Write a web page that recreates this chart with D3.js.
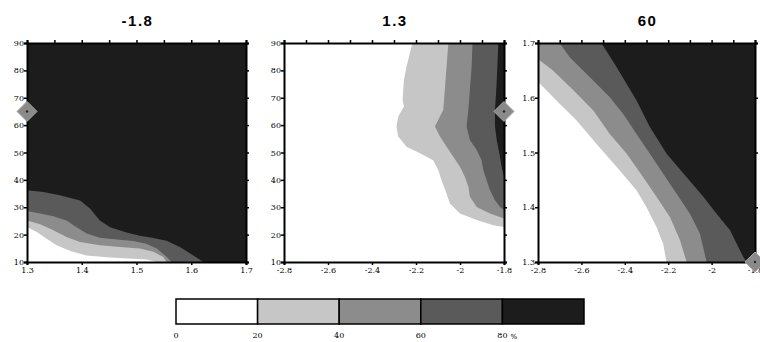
<!DOCTYPE html>
<html>
<head>
  <meta charset="utf-8">
  <title>contours</title>
  <style type="text/css">
    body { margin: 0; background-color: #fff; }
    svg { display: block; }
    .tick text { font-family: "DejaVu Serif", serif; font-size: 8px; fill: #000; }
    .title { font-family: "Liberation Sans", Arial, sans-serif; font-weight: bold; font-size: 15px; letter-spacing: 1.5px; }
    .lab { font-family: "DejaVu Serif", serif; font-size: 8px; fill: #000; }
  </style>
  <script src="https://d3js.org/d3.v7.min.js"></script>
</head>
<body>
<script>
// colour levels (percent)
var levels = [0, 20, 40, 60, 80];
var levelColors = ["#ffffff", "#c6c6c6", "#8c8c8c", "#5a5a5a", "#1c1c1c"];
var legendLabels = ["0", "20", "40", "60", "80"];

var titles = ["-1.8", "1.3", "60"];

// panel 1: x 1.3..1.7, y 10..90 -- boundaries of the 20/40/60/80 % levels
var p1b20 = [[1.3,22.8],[1.318,21],[1.336,18.5],[1.354,16.1],[1.379,14],[1.409,12.4],[1.452,11.6],[1.494,11.2],[1.519,10.9],[1.537,10]];
var p1b40 = [[1.3,25.2],[1.324,23.8],[1.348,21.6],[1.372,19.1],[1.397,17.3],[1.433,16.1],[1.47,15.5],[1.506,14.9],[1.531,13.7],[1.549,11.8],[1.555,10]];
var p1b60 = [[1.3,28.6],[1.324,27.7],[1.348,26.7],[1.372,25.2],[1.39,22.8],[1.409,20.4],[1.433,18.9],[1.464,18.2],[1.494,17.7],[1.518,16.7],[1.537,14.9],[1.555,11.9],[1.564,10]];
var p1b80 = [[1.3,36.2],[1.33,35.6],[1.36,34.4],[1.397,32.5],[1.415,29.5],[1.433,25.2],[1.452,22.7],[1.482,20.8],[1.506,19.6],[1.531,18.8],[1.555,17.8],[1.58,15.4],[1.604,12.4],[1.622,10]];

// panel 2: x -2.8..-1.8, y 10..90
var p2b20 = [[-2.213,90],[-2.22,88.8],[-2.243,81.4],[-2.255,76.5],[-2.261,69.2],[-2.255,66.8],[-2.281,63.1],[-2.289,59.5],[-2.281,55.8],[-2.243,52.1],[-2.182,49.7],[-2.122,47.2],[-2.099,43.6],[-2.084,39.9],[-2.061,35],[-2.046,31.4],[-2,27.7],[-1.924,25.3],[-1.849,23.4],[-1.8,22.8]];
var p2b40 = [[-2.053,90],[-2.061,81.4],[-2.069,72.9],[-2.076,65.6],[-2.099,61.9],[-2.114,59.5],[-2.091,55.8],[-2.061,52.1],[-2.031,48.5],[-2,44.8],[-1.978,41.1],[-1.962,37.5],[-1.955,33.8],[-1.924,30.1],[-1.864,27.7],[-1.8,25.9]];
var p2b60 = [[-1.943,90],[-1.947,81.4],[-1.955,72.9],[-1.962,65.6],[-1.97,59.5],[-1.955,54.6],[-1.924,50.9],[-1.902,47.2],[-1.894,43.6],[-1.879,39.9],[-1.864,36.3],[-1.841,32.6],[-1.818,30.1],[-1.8,28.9]];
var p2b80 = [[-1.826,90],[-1.83,81.4],[-1.836,71.7],[-1.841,65.6],[-1.841,59.5],[-1.833,54.6],[-1.821,49.7],[-1.811,44.8],[-1.8,41.1]];

// panel 3: x -2.8..-1.8, y 1.3..1.7
var p3b20 = [[-2.8,1.629],[-2.715,1.595],[-2.623,1.559],[-2.531,1.516],[-2.438,1.474],[-2.346,1.431],[-2.3,1.4],[-2.254,1.364],[-2.223,1.333],[-2.208,1.3]];
var p3b40 = [[-2.8,1.671],[-2.731,1.65],[-2.638,1.614],[-2.546,1.577],[-2.469,1.534],[-2.392,1.498],[-2.315,1.455],[-2.254,1.419],[-2.192,1.382],[-2.146,1.34],[-2.115,1.3]];
var p3b60 = [[-2.7,1.7],[-2.654,1.674],[-2.562,1.638],[-2.469,1.601],[-2.408,1.571],[-2.346,1.534],[-2.285,1.498],[-2.223,1.461],[-2.162,1.425],[-2.1,1.388],[-2.054,1.352],[-2.023,1.3]];
var p3b80 = [[-2.508,1.7],[-2.438,1.656],[-2.346,1.595],[-2.285,1.547],[-2.208,1.498],[-2.115,1.455],[-2.038,1.419],[-1.977,1.388],[-1.915,1.358],[-1.854,1.309],[-1.838,1.3]];

// reference markers
var markers = [[1.3, 65], [-1.8, 65], [-1.8, 1.3]];

var svg = d3.select("body").append("svg")
  .attr("width", 760).attr("height", 342);

var plotTop = 43, h = 219;

function dashFmt(d) {
  return d3.format(".1f")(d).replace(".0", "").replace("\u2212", "-");
}

var panels = [
  { left: 27, w: 219, xd: [1.3, 1.7], yd: [10, 90], bounds: [p1b20, p1b40, p1b60, p1b80],
    // region left/below each boundary is the lower level
    lowerSide: true, close: [[0.3, -90]],
    xTop: d3.range(1.3, 1.7001, 0.05), xBot: d3.range(1.3, 1.7001, 0.1), yT: d3.range(10, 91, 10),
    xFmt: d3.format(".1f"), yFmt: d3.format("d") },
  { left: 284, w: 220, xd: [-2.8, -1.8], yd: [10, 90], bounds: [p2b20, p2b40, p2b60, p2b80],
    lowerSide: false, close: [[-0.8, 190]],
    xTop: d3.range(-2.8, -1.7999, 0.1), xBot: d3.range(-2.8, -1.7999, 0.2), yT: d3.range(10, 91, 10),
    xFmt: dashFmt, yFmt: d3.format("d") },
  { left: 538, w: 217, xd: [-2.8, -1.8], yd: [1.3, 1.7], bounds: [p3b20, p3b40, p3b60, p3b80],
    lowerSide: false, close: [[-0.8, 0.3], [-0.8, 2.7], [-3.8, 2.7]],
    xTop: d3.range(-2.8, -1.7999, 0.1), xBot: d3.range(-2.8, -1.7999, 0.2), yT: d3.range(1.3, 1.7001, 0.1),
    xFmt: dashFmt, yFmt: d3.format(".1f") }
];

panels.forEach(function(p, i) {
  var x = d3.scaleLinear().domain(p.xd).range([0, p.w]);
  var y = d3.scaleLinear().domain(p.yd).range([h, 0]);
  var g = svg.append("g").attr("transform", "translate(" + p.left + "," + plotTop + ")");

  g.append("clipPath").attr("id", "clip" + i)
    .append("rect").attr("width", p.w).attr("height", h);

  var area = g.append("g").attr("clip-path", "url(#clip" + i + ")");
  var line = d3.line().x(function(d) { return x(d[0]); }).y(function(d) { return y(d[1]); });

  if (p.lowerSide) {
    // background is top level, fill downward levels
    area.append("rect").attr("width", p.w).attr("height", h).attr("fill", levelColors[4]);
    for (var k = 3; k >= 0; k--) {
      area.append("path").attr("d", line(p.bounds[k].concat(p.close)) + "Z").attr("fill", levelColors[k]);
    }
  } else {
    area.append("rect").attr("width", p.w).attr("height", h).attr("fill", levelColors[0]);
    for (var k = 0; k < 4; k++) {
      area.append("path").attr("d", line(p.bounds[k].concat(p.close)) + "Z").attr("fill", levelColors[k + 1]);
    }
  }

  // axes
  g.append("g").attr("transform", "translate(0," + h + ")")
    .call(d3.axisBottom(x).tickValues(p.xBot).tickFormat(p.xFmt).tickSize(3).tickPadding(2));
  g.append("g")
    .call(d3.axisTop(x).tickValues(p.xTop).tickFormat("").tickSize(3));
  g.append("g")
    .call(d3.axisLeft(y).tickValues(p.yT).tickFormat(p.yFmt).tickSize(3).tickPadding(0));
  g.append("g").attr("transform", "translate(" + p.w + ",0)")
    .call(d3.axisRight(y).tickValues(p.yT).tickFormat("").tickSize(3));
  g.selectAll(".domain").attr("stroke", "#000").attr("stroke-width", 2);
  g.selectAll(".tick line").attr("stroke", "#000").attr("stroke-width", 1.5);

  // marker (drawn over the frame)
  var m = markers[i];
  g.append("path")
    .attr("d", "M0,-10L10,0L0,10L-10,0Z")
    .attr("transform", "translate(" + x(m[0]) + "," + y(m[1]) + ")")
    .attr("fill", "#8a8a8a").attr("stroke", "#a8a8a8").attr("stroke-width", 1);
  g.append("circle").attr("cx", x(m[0])).attr("cy", y(m[1])).attr("r", 1.2).attr("fill", "#222");

  svg.append("text").attr("class", "title")
    .attr("x", p.left + p.w / 2 + 1).attr("y", 26).attr("text-anchor", "middle")
    .text(titles[i]);
});

// legend bar
var lx = d3.scaleLinear().domain([0, 100]).range([176, 584]);
var lg = svg.append("g");
lg.selectAll("rect").data(levels).enter().append("rect")
  .attr("x", function(d) { return lx(d); })
  .attr("y", 299)
  .attr("width", function(d) { return lx(d + 20) - lx(d); })
  .attr("height", 25)
  .attr("fill", function(d, i) { return levelColors[i]; })
  .attr("stroke", "#000").attr("stroke-width", 1.5);
lg.selectAll("text.lab").data(levels).enter().append("text")
  .attr("class", "lab")
  .attr("x", function(d) { return lx(d); })
  .attr("y", 338)
  .attr("text-anchor", "middle")
  .text(function(d, i) { return legendLabels[i]; });
lg.append("text").attr("class", "lab")
  .attr("x", lx(80) + 8).attr("y", 339)
  .style("font-size", "7px")
  .text("%");
</script>
</body>
</html>
